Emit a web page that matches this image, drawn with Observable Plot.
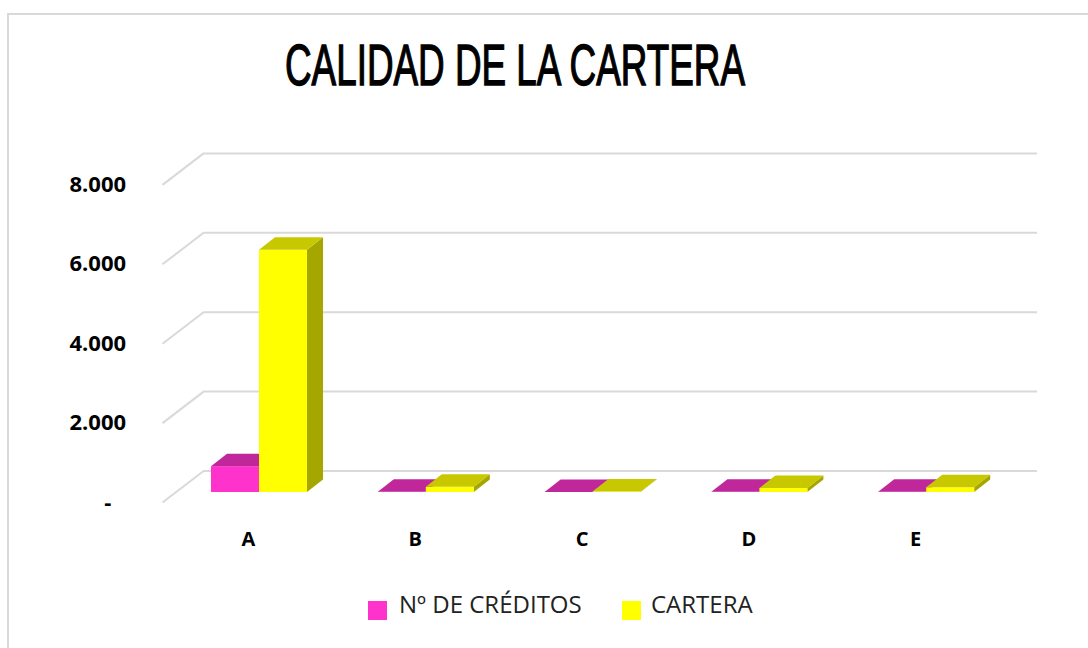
<!DOCTYPE html>
<html>
<head>
<meta charset="utf-8">
<script src="https://cdn.jsdelivr.net/npm/d3@7"></script>
<script src="https://cdn.jsdelivr.net/npm/@observablehq/plot@0.6"></script>
<style>
  html, body { margin: 0; padding: 0; background: #fff; overflow: hidden; }
  #wrap { position: relative; width: 1088px; height: 648px; overflow: hidden; font-family: "Open Sans", sans-serif; }
  #border { position: absolute; left: 7px; top: 13px; width: 1200px; height: 800px; border: 2px solid #d9d9d9; box-sizing: border-box; }
  #title { position: absolute; left: 0; top: 0; }
  #chart { position: absolute; left: 0; top: 120px; }
  .sw { position: absolute; width: 19px; height: 19px; }
  .lt { position: absolute; font-size: 24px; line-height: 24px; color: #222; white-space: nowrap; }
</style>
</head>
<body>
<div id="wrap">
  <div id="border"></div>
  <svg id="title" width="1088" height="120">
    <text x="515" y="85" text-anchor="middle" textLength="460" lengthAdjust="spacingAndGlyphs"
      font-family="Liberation Sans, Arial, sans-serif" font-weight="400" font-size="58" fill="#000"
      stroke="#000" stroke-width="1.4">CALIDAD DE LA CARTERA</text>
  </svg>
  <div id="chart"></div>
  <div class="sw" style="left:368px;top:601px;background:#FF33CC"></div>
  <div class="lt" style="left:399px;top:592px">Nº DE CRÉDITOS</div>
  <div class="sw" style="left:622px;top:601px;background:#FFFF00"></div>
  <div class="lt" style="left:651px;top:592px">CARTERA</div>
</div>
<script>
// ---- data ----
const categories = ["A", "B", "C", "D", "E"];
const creditos = [650, 5, 2, 5, 6];          // Nº DE CRÉDITOS
const cartera = [6100, 130, 10, 100, 120];   // CARTERA
const yTicks = [0, 2000, 4000, 6000, 8000];
const seriesNames = ["Nº DE CRÉDITOS", "CARTERA"];

// ---- styling ----
const colors = [
  {front: "#FF33CC", top: "#C0279B", side: "#9E1F80"},
  {front: "#FFFF00", top: "#C8C800", side: "#A6A600"}
];

const W = 1088, H = 440;
const mL = 175.6, mR = 78.4, mT = 54.4, mB = 68;
const kx = (W - mL - mR) / 5;          // px per category unit
const ky = (H - mT - mB) / 8000;       // px per value unit
const barW = 48 / kx;                  // bar width in category units
const ddx = 16 / kx, ddy = 12.5 / ky;  // bar depth (3D) in data units
const wallDx = 27.5, wallDy = -21.5;   // back wall offset (px)
const frontDx = -13.6, frontDy = 10;   // front plane offset (px)

const values = [creditos, cartera];
const fronts = [], tops = [], sides = [];
values.forEach((vals, s) => {
  vals.forEach((v, i) => {
    const a = s === 0 ? i - barW : i;
    const b = s === 0 ? i : i + barW;
    const id = s + "-" + i;
    fronts.push({s, x1: a, x2: b, y1: 0, y2: v, fill: colors[s].front});
    tops.push({s, id, y: v, x1: a, x2: b, fill: colors[s].top});
    tops.push({s, id, y: v + ddy, x1: a + ddx, x2: b + ddx, fill: colors[s].top});
    sides.push({s, id, x: b, y1: 0, y2: v, fill: colors[s].side});
    sides.push({s, id, x: b + ddx, y1: ddy, y2: v + ddy, fill: colors[s].side});
  });
});

const diag = yTicks.map(v => ({
  x1: -0.5 + frontDx / kx, y1: v - frontDy / ky,
  x2: -0.5 + wallDx / kx, y2: v - wallDy / ky
}));

const marks = [
  Plot.ruleY(yTicks, {dx: wallDx, dy: wallDy, stroke: "#d9d9d9", strokeWidth: 2}),
  Plot.link(diag, {x1: "x1", y1: "y1", x2: "x2", y2: "y2", stroke: "#d9d9d9", strokeWidth: 2})
];
[0, 1].forEach(s => {
  marks.push(Plot.areaY(sides.filter(d => d.s === s), {x: "x", y1: "y1", y2: "y2", z: "id", fill: "fill", curve: "linear"}));
  marks.push(Plot.rect(fronts.filter(d => d.s === s), {x1: "x1", x2: "x2", y1: "y1", y2: "y2", fill: "fill"}));
  marks.push(Plot.areaX(tops.filter(d => d.s === s), {y: "y", x1: "x1", x2: "x2", z: "id", fill: "fill", curve: "linear"}));
});
marks.push(Plot.axisY(yTicks, {
  tickSize: 0, tickPadding: 50, dy: frontDy, label: null, fontSize: 22, fontWeight: 700,
  tickFormat: v => v === 0 ? "-\u2002\u2009" : d3.format(",")(v).replace(/,/g, ".")
}));
marks.push(Plot.axisX(categories.map((c, i) => i), {
  tickSize: 0, tickPadding: 39, dx: -11, label: null, fontSize: 20, fontWeight: 700,
  tickFormat: i => categories[i]
}));

const chart = Plot.plot({
  width: W, height: H,
  marginLeft: mL, marginRight: mR, marginTop: mT, marginBottom: mB,
  x: {domain: [-0.5, 4.5], axis: null},
  y: {domain: [0, 8000], axis: null},
  style: {fontFamily: "'Open Sans', sans-serif", fontSize: "21px", fontWeight: 700, color: "#000", background: "transparent", overflow: "visible"},
  marks
});
document.getElementById("chart").appendChild(chart);
</script>
</body>
</html>
